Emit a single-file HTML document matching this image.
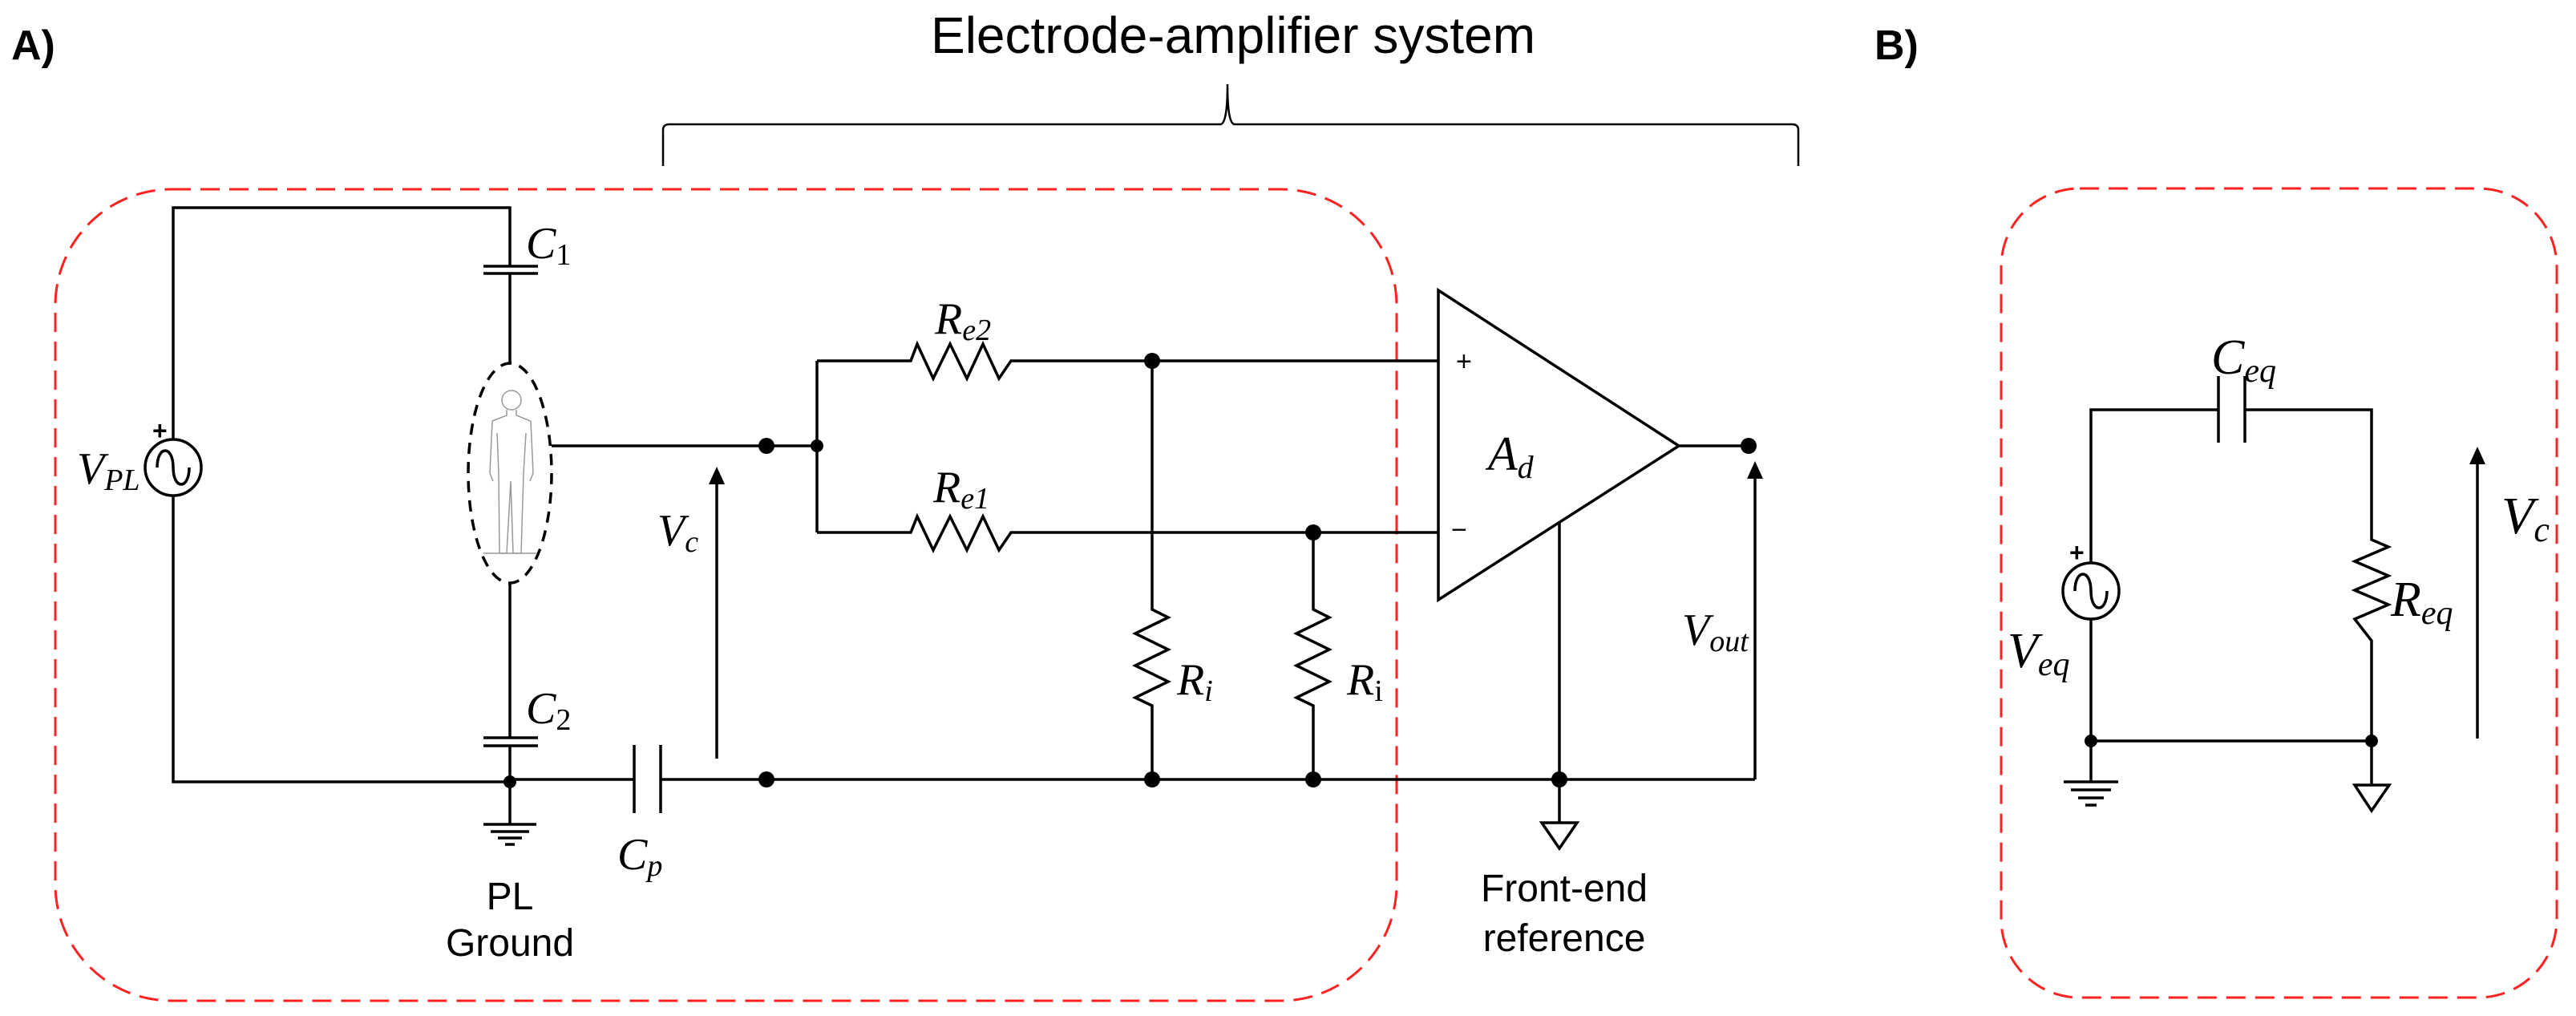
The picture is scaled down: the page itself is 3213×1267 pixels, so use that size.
<!DOCTYPE html>
<html><head><meta charset="utf-8"><style>
html,body{margin:0;padding:0;background:#fff;}
svg{display:block;}
.m{font-family:"Liberation Serif",serif;font-style:italic;fill:#000;}
.s{font-family:"Liberation Sans",sans-serif;fill:#000;}
</style></head><body>
<svg width="3213" height="1267" viewBox="0 0 3213 1267" xmlns="http://www.w3.org/2000/svg">
<g fill="none" stroke="#000" stroke-width="3.5">
<rect x="69" y="236" width="1673" height="1012" rx="145" ry="145" stroke="#f22" stroke-width="3" stroke-dasharray="24 12"/>
<rect x="2496" y="235" width="693" height="1009" rx="98" ry="98" stroke="#f22" stroke-width="3" stroke-dasharray="24 12"/>
<path d="M827 207 V162 Q827 155 835 155 H1522 Q1531 155 1531 105 Q1531 155 1540 155 H2235 Q2243 155 2243 162 V207" stroke-width="2.5"/>
<path d="M216 548 V259 H636 V332 M603 332 H671 M603 341 H671 M636 341 V453"/>
<path d="M216 618 V975 H636 M636 728 V920 M603 920 H671 M603 930 H671 M636 930 V975"/>
<circle cx="216" cy="583" r="35"/>
<path d="M196 583 C196 555 216 555 216 583 C216 611 236 611 236 583"/>
<path d="M636 975 V1028 M603 1028 H669 M612 1037 H660 M621 1045 H651 M630 1053 H642"/>
<ellipse cx="636" cy="590" rx="52" ry="137" stroke-dasharray="14 10"/>
<path d="M688 556 H956 M1019 556 H956 M1019 450 V664"/>
<path d="M636 972 H791 M824 972 H2189 M791 929 V1014 M824 929 V1014"/>
<path d="M894 946 V600"/>
<path d="M1019 450 H1136 L1144 429 L1164 472 L1185 429 L1206 472 L1226 429 L1246 472 L1261 450 H1794"/>
<path d="M1019 664 H1136 L1144 644 L1164 686 L1185 644 L1206 686 L1226 644 L1246 686 L1261 664 H1794"/>
<path d="M1437 450 V760 L1457 770 L1416 790 L1457 810 L1416 830 L1457 850 L1416 870 L1437 880 V972"/>
<path d="M1638 664 V760 L1658 770 L1617 790 L1658 810 L1617 830 L1658 850 L1617 870 L1638 880 V972"/>
<path d="M1794 362 L2094 556 L1794 748 Z M2094 556 H2181"/>
<path d="M1945 651 V1026 M1923 1026 H1967 L1945 1058 Z"/>
<path d="M2189 972 V595"/>
<path d="M2608 702 V511 H2767 M2800 511 H2958 V673 L2979 682 L2937 700 L2979 718 L2937 736 L2979 754 L2937 772 L2958 799 V924 H2608 V772 M2767 469 V552 M2800 469 V552"/>
<circle cx="2608" cy="737" r="35"/>
<path d="M2588 737 C2588 709 2608 709 2608 737 C2608 765 2628 765 2628 737"/>
<path d="M2608 924 V975 M2574 975 H2642 M2583 985 H2633 M2592 995 H2624 M2601 1004 H2615"/>
<path d="M2958 924 V979 M2937 979 H2980 L2958 1011 Z"/>
<path d="M3090 921 V575"/>
<g stroke="#999" stroke-width="1.5">
<circle cx="638" cy="499" r="12"/>
<path d="M632 511 V518 L614 525 L611 590 L615 600 M644 511 V518 L662 525 L665 590 L661 600 M620 540 L622 590 L623 690 H632 L637 600 L640 690 H650 L653 590 L656 540"/>
<path d="M603 690 H670"/>
</g>
</g>
<g fill="#000">
<circle cx="636" cy="975" r="8"/><circle cx="956" cy="556" r="10"/><circle cx="1019" cy="556" r="8"/>
<circle cx="956" cy="972" r="10"/><circle cx="1437" cy="450" r="10"/><circle cx="1638" cy="664" r="10"/>
<circle cx="1437" cy="972" r="10"/><circle cx="1638" cy="972" r="10"/><circle cx="1945" cy="972" r="10"/>
<circle cx="2181" cy="556" r="10"/><circle cx="2608" cy="924" r="8"/><circle cx="2958" cy="924" r="8"/>
<path d="M894 582 L884 604 H904 Z"/><path d="M2189 575 L2179 597 H2199 Z"/><path d="M3090 557 L3080 579 H3100 Z"/>
</g>
<text class="s" x="14" y="74" font-size="52" font-weight="bold">A)</text>
<text class="s" x="2338" y="74" font-size="52" font-weight="bold">B)</text>
<text class="s" x="1538" y="66" font-size="64" text-anchor="middle">Electrode-amplifier system</text>
<text class="s" x="636" y="1134" font-size="48" text-anchor="middle">PL</text>
<text class="s" x="636" y="1192" font-size="48" text-anchor="middle">Ground</text>
<text class="s" x="1951" y="1124" font-size="48" text-anchor="middle">Front-end</text>
<text class="s" x="1951" y="1186" font-size="48" text-anchor="middle">reference</text>
<text class="s" x="190" y="548" font-size="32" font-weight="bold">+</text>
<text class="s" x="1816" y="462" font-size="34">+</text>
<text class="s" x="1810" y="672" font-size="34">−</text>
<text class="s" x="2581" y="700" font-size="32" font-weight="bold">+</text>
<g class="m">
<text x="96" y="603" font-size="56">V<tspan font-size="38" dy="8">PL</tspan></text>
<text x="656" y="322" font-size="56">C<tspan font-size="38" dy="8" font-style="normal">1</tspan></text>
<text x="656" y="902" font-size="56">C<tspan font-size="38" dy="8" font-style="normal">2</tspan></text>
<text x="770" y="1084" font-size="56">C<tspan font-size="38" dy="8">p</tspan></text>
<text x="820" y="680" font-size="56">V<tspan font-size="38" dy="8">c</tspan></text>
<text x="1166" y="416" font-size="56">R<tspan font-size="38" dy="8">e2</tspan></text>
<text x="1164" y="626" font-size="56">R<tspan font-size="38" dy="8">e1</tspan></text>
<text x="1468" y="866" font-size="56">R<tspan font-size="38" dy="8">i</tspan></text>
<text x="1680" y="866" font-size="56">R<tspan font-size="38" dy="8" font-style="normal">i</tspan></text>
<text x="1856" y="586" font-size="60">A<tspan font-size="40" dy="10">d</tspan></text>
<text x="2098" y="804" font-size="56">V<tspan font-size="38" dy="8">out</tspan></text>
<text x="2758" y="466" font-size="62">C<tspan font-size="42" dy="10">eq</tspan></text>
<text x="2504" y="832" font-size="62">V<tspan font-size="42" dy="10">eq</tspan></text>
<text x="2982" y="768" font-size="62">R<tspan font-size="42" dy="10">eq</tspan></text>
<text x="3120" y="665" font-size="66">V<tspan font-size="44" dy="10">c</tspan></text>
</g>
</svg>
</body></html>
